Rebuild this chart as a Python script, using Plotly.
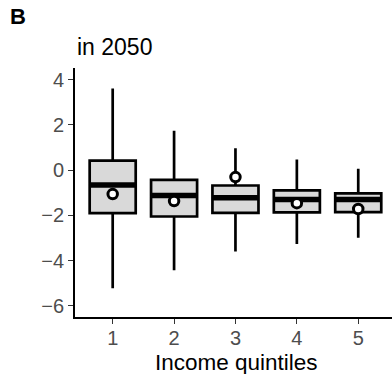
import plotly.graph_objects as go

# Income quintile summaries (change, in 2050)
quintiles = [1, 2, 3, 4, 5]
q1 = [-1.90, -2.05, -1.89, -1.87, -1.86]
median = [-0.66, -1.12, -1.22, -1.30, -1.30]
q3 = [0.42, -0.43, -0.68, -0.90, -1.03]
lower_whisker = [-5.22, -4.42, -3.60, -3.26, -2.99]
upper_whisker = [3.60, 1.74, 0.97, 0.47, 0.06]
means = [-1.06, -1.37, -0.31, -1.46, -1.72]

tick_labels = ["1", "2", "3", "4", "5"]
y_ticks = [4, 2, 0, -2, -4, -6]
y_tick_labels = ["4", "2", "0", "\u22122", "\u22124", "\u22126"]

BOX_W = 0.75
FONT = "Liberation Sans, Arial, sans-serif"

fig = go.Figure()

fig.add_trace(go.Box(
    x=quintiles,
    q1=q1, median=median, q3=q3,
    lowerfence=lower_whisker, upperfence=upper_whisker,
    width=BOX_W,
    whiskerwidth=0,
    fillcolor="#D9D9D9",
    line=dict(color="black", width=2.7),
    boxpoints=False,
    hoverinfo="skip",
    showlegend=False,
))

# heavy median bars
mx, my = [], []
for q, m in zip(quintiles, median):
    mx += [q - BOX_W / 2, q + BOX_W / 2, None]
    my += [m, m, None]
fig.add_trace(go.Scatter(
    x=mx, y=my, mode="lines",
    line=dict(color="black", width=5.5),
    hoverinfo="skip", showlegend=False,
))

# means as open circles
fig.add_trace(go.Scatter(
    x=quintiles, y=means, mode="markers",
    marker=dict(symbol="circle", size=9.5, color="white",
                line=dict(color="black", width=3)),
    hoverinfo="skip", showlegend=False,
))

tick_font = dict(size=20, color="#4D4D4D", family=FONT)

fig.update_layout(
    width=392, height=374,
    margin=dict(l=75, r=0, t=68, b=57),
    paper_bgcolor="white", plot_bgcolor="white",
    font=dict(family=FONT, color="black"),
    xaxis=dict(
        range=[0.386, 5.55],
        tickvals=quintiles, ticktext=tick_labels,
        showgrid=False, zeroline=False,
        showline=True, linecolor="black", linewidth=1.8,
        ticks="outside", ticklen=5, tickwidth=1.2, tickcolor="#333333",
        tickfont=tick_font, ticklabelstandoff=-3,
    ),
    yaxis=dict(
        range=[-6.49, 4.51],
        tickvals=y_ticks, ticktext=y_tick_labels,
        showgrid=False, zeroline=False,
        showline=True, linecolor="black", linewidth=1.8,
        ticks="outside", ticklen=5, tickwidth=1.2, tickcolor="#333333",
        tickfont=tick_font,
    ),
    annotations=[
        dict(text="<b>B</b>", x=-0.18, y=1.207, xref="paper", yref="paper",
             xanchor="center", yanchor="middle", showarrow=False,
             font=dict(size=22, color="black", family=FONT)),
        dict(text="in 2050", x=0.0, y=1.083, xref="paper", yref="paper",
             xanchor="left", yanchor="middle", showarrow=False,
             font=dict(size=23, color="black", family=FONT)),
        dict(text="Income quintiles", x=0.509, y=-0.183, xref="paper", yref="paper",
             xanchor="center", yanchor="middle", showarrow=False,
             font=dict(size=22.5, color="black", family=FONT)),
    ],
)

fig.write_html("out.html")
